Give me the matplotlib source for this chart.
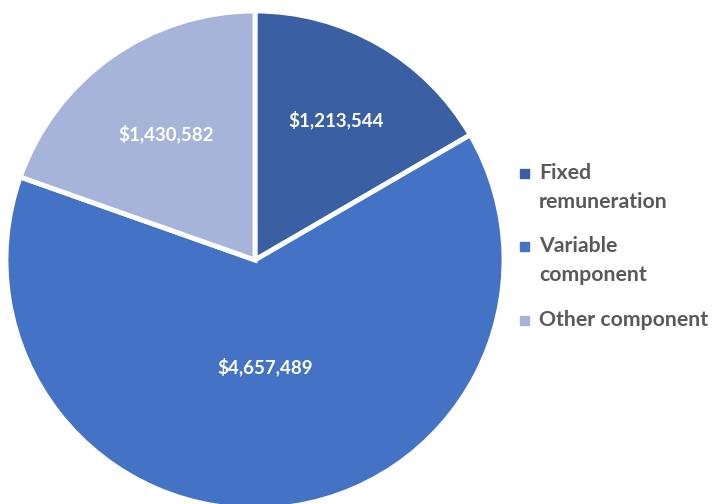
import matplotlib
matplotlib.use("Agg")
import matplotlib.pyplot as plt
import numpy as np
from matplotlib.patches import Rectangle

categories = ["Fixed\nremuneration", "Variable\ncomponent", "Other component"]
values = [1213544, 4657489, 1430582]
value_labels = ["$1,213,544", "$4,657,489", "$1,430,582"]
colors = ["#3A5FA3", "#4472C4", "#A6B4DA"]
label_dist = [0.65, 0.43, 0.62]

fig = plt.figure(figsize=(7.13, 5.04), dpi=100)
W, H = 713, 504
cx, cy, R = 255, 260, 249
ax = fig.add_axes([(cx - R) / W, (H - cy - R) / H, 2 * R / W, 2 * R / H])
wedges, _ = ax.pie(values, colors=colors, startangle=90, counterclock=False,
                   radius=1.0, wedgeprops=dict(edgecolor="white", linewidth=3.5))
ax.set_xlim(-1, 1)
ax.set_ylim(-1, 1)
ax.set_aspect("equal")
ax.axis("off")

for w, lab, d in zip(wedges, value_labels, label_dist):
    ang = np.deg2rad((w.theta1 + w.theta2) / 2)
    ax.text(d * np.cos(ang), d * np.sin(ang), lab, ha="center", va="center",
            color="white", fontsize=13.5, fontweight="bold", family="Lato")

# legend
leg_y = [173, 246, 320]
for lab, col, y in zip(categories, colors, leg_y):
    fig.patches.append(Rectangle((520 / W, (H - y - 5) / H), 9 / W, 9 / H,
                                 transform=fig.transFigure, color=col))
    for i, ln in enumerate(lab.split("\n")):
        fig.text(539 / W, (H - y - i * 29) / H, ln, ha="left", va="center",
                 color="#595959", fontsize=15.3, fontweight="bold", family="Lato")

fig.savefig("out.png", dpi=100)
